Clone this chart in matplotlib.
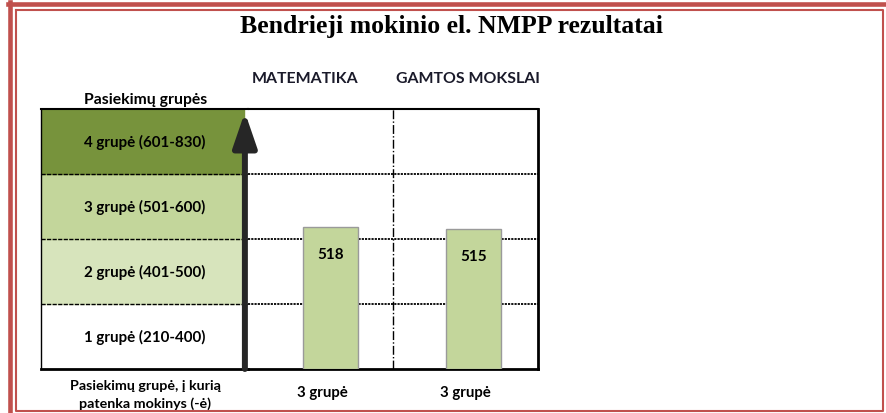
import numpy as np
import matplotlib
matplotlib.use('Agg')
import matplotlib.pyplot as plt
from matplotlib.lines import Line2D

# duomenys
subjects = ['MATEMATIKA', 'GAMTOS MOKSLAI']
scores = [518, 515]
student_groups = ['3 grupė', '3 grupė']
group_bounds = [210, 400, 500, 600, 830]
group_labels = ['1 grupė (210-400)', '2 grupė (401-500)', '3 grupė (501-600)', '4 grupė (601-830)']
group_colors = ['#FFFFFF', '#D7E4BC', '#C3D69B', '#77933C']

W, H = 886, 414
plt.rcParams['font.family'] = ['Lato', 'DejaVu Sans']
fig = plt.figure(figsize=(W / 100, H / 100), dpi=100)


def fx(px):
    return px / W


def fy(py):
    return 1 - py / H


# piecewise skale: kiekviena grupe vienodo aukscio
idx = np.arange(len(group_bounds))


def fwd(v):
    return np.interp(v, group_bounds, idx)


def inv(v):
    return np.interp(v, idx, group_bounds)


# raudonas remelis
red = '#C0504D'
fig.add_artist(Line2D([fx(8), fx(886)], [fy(5), fy(5)], color=red, lw=3.3, transform=fig.transFigure))
fig.add_artist(Line2D([fx(10), fx(10)], [fy(3), fy(414)], color=red, lw=3.3, transform=fig.transFigure))
fig.add_artist(Line2D([fx(16), fx(883), fx(883), fx(16), fx(16)],
                      [fy(10.5), fy(10.5), fy(412), fy(412), fy(10.5)],
                      color=red, lw=1.5, transform=fig.transFigure))

fig.text(fx(452), fy(33), 'Bendrieji mokinio el. NMPP rezultatai', ha='center', va='baseline',
         fontsize=18.5, fontweight='bold', family=['Liberation Serif', 'DejaVu Serif'])

# pagrindine asis
ax = fig.add_axes([fx(248), fy(370), fx(538) - fx(248), fy(110) - fy(370)])
ax.set_yscale('function', functions=(fwd, inv))
ax.set_ylim(group_bounds[0], group_bounds[-1])
ax.set_xlim(-0.577, 1.451)
x = np.arange(len(subjects))
ax.bar(x, np.array(scores) - group_bounds[0], bottom=group_bounds[0], width=0.39,
       color='#C3D69B', edgecolor='#9A9A9A', lw=1, zorder=3)
for b in group_bounds[1:-1]:
    ax.axhline(b, color='black', ls=(0, (1.2, 0.6)), lw=1.3, zorder=1)
ax.axvline(0.437, color='black', ls='-.', lw=1, zorder=1)
for xi, s in zip(x, scores):
    ax.annotate(str(s), (xi, s), xytext=(0, -19.5), textcoords='offset points',
                ha='center', va='center', fontsize=11, fontweight='bold', zorder=4)
for xi, g in zip(x, student_groups):
    ax.text(xi - 0.055, -0.09, g, transform=ax.get_xaxis_transform(), ha='center', va='center',
            fontsize=10.8, fontweight='bold')
ax.set_xticks([])
ax.set_yticks([])
ax.minorticks_off()
ax.spines['left'].set_visible(False)
ax.spines['top'].set_linewidth(1.5)
ax.spines['right'].set_linewidth(2)
ax.spines['bottom'].set_linewidth(2)

for sx, name in zip([305, 468], subjects):
    fig.text(fx(sx), fy(83), name, ha='center', va='baseline', fontsize=11.4, fontweight='bold',
             color='#1a1a2a')

# kaireje grupiu lentele
ax_t = fig.add_axes([fx(41), fy(370), fx(248) - fx(41), fy(110) - fy(370)])
ax_t.set_yscale('function', functions=(fwd, inv))
ax_t.set_ylim(group_bounds[0], group_bounds[-1])
ax_t.set_xlim(0, 1)
for i, (lab, col) in enumerate(zip(group_labels, group_colors)):
    ax_t.axhspan(group_bounds[i], group_bounds[i + 1], xmax=0.98, color=col, zorder=0)
    ax_t.text(0.5, (i + 0.5) / 4, lab, transform=ax_t.transAxes, ha='center', va='center',
              fontsize=10.9, fontweight='bold')
for b in group_bounds[1:-1]:
    ax_t.axhline(b, color='black', ls=(0, (3, 1)), lw=1, zorder=1)
ax_t.set_xticks([])
ax_t.set_yticks([])
ax_t.minorticks_off()
ax_t.spines['right'].set_visible(False)
ax_t.spines['left'].set_linestyle((0, (4, 1)))
ax_t.spines['left'].set_linewidth(1)
ax_t.spines['top'].set_linewidth(1.5)
ax_t.spines['bottom'].set_linewidth(2)
ax_t.annotate('', xy=(0.985, 0.988), xytext=(0.985, 0.0), xycoords='axes fraction',
              arrowprops=dict(arrowstyle='-|>,head_length=1.05,head_width=0.36', lw=4.3,
                              color='#262626', mutation_scale=20, shrinkA=0, shrinkB=0),
              annotation_clip=False)

fig.text(fx(146), fy(104), 'Pasiekimų grupės', ha='center', va='baseline', fontsize=11.3,
         fontweight='bold')
fig.text(fx(145), fy(395), 'Pasiekimų grupė, į kurią\npatenka mokinys (-ė)', ha='center',
         va='center', fontsize=10.3, fontweight='bold', linespacing=1.45)

fig.savefig('out.png', dpi=100)
